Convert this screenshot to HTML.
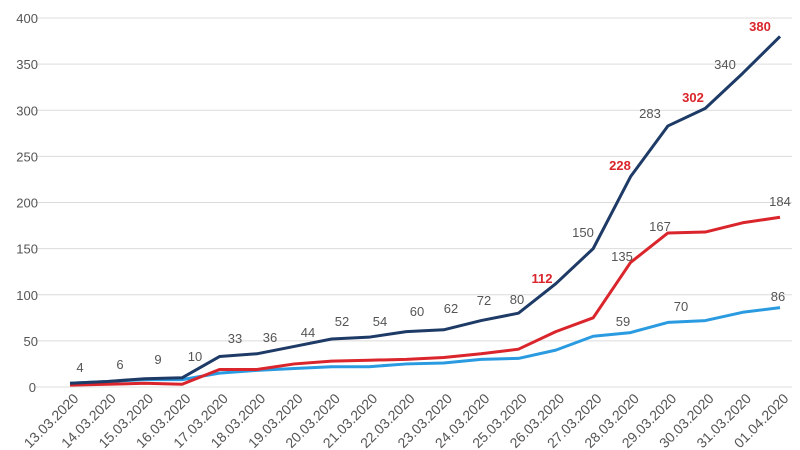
<!DOCTYPE html>
<html><head><meta charset="utf-8"><style>
html,body{margin:0;padding:0;background:#fff;width:800px;height:450px;overflow:hidden}
svg{display:block;font-family:"Liberation Sans",sans-serif}
</style></head><body>
<svg id="c" width="800" height="450" xmlns="http://www.w3.org/2000/svg"></svg>
<script>
const s=document.getElementById('c');
const X=i=>70+i*37.37, Y=v=>387-v*0.9225;
let h='';
for(let v=0;v<=400;v+=50){const y=Y(v);h+=`<line x1="35" x2="792" y1="${y}" y2="${y}" stroke="#dcdcdc" stroke-width="1"/>`;
h+=`<text x="${v==0?36:38}" y="${y+5}" text-anchor="end" font-size="13" fill="#555">${v}</text>`;}
const dates=[];for(let d=13;d<=31;d++)dates.push((d<10?'0':'')+d+'.03.2020');dates.push('01.04.2020');
dates.forEach((d,i)=>{const x=X(i)+2,y=392;h+=`<text x="${x}" y="${y}" transform="rotate(-45 ${x} ${y})" text-anchor="end" dominant-baseline="hanging" font-size="14" fill="#555">${d}</text>`;});
const dark=[4,6,9,10,33,36,44,52,54,60,62,72,80,112,150,228,283,302,340,380];
const red=[2,3,4,3,19,19,25,28,29,30,32,36,41,60,75,135,167,168,178,184];
const lb=[4,6,8,8,15,18,20,22,22,25,26,30,31,40,55,59,70,72,81,86];
const pl=(a,c)=>`<polyline fill="none" stroke="${c}" stroke-width="3" stroke-linejoin="round" points="${a.map((v,i)=>X(i)+','+Y(v)).join(' ')}"/>`;
h+=pl(lb,'#2a9be0')+pl(red,'#d9252b')+pl(dark,'#1e3a66');
const L=[['4',80,372],['6',120,369],['9',158,364],['10',195,361],['33',235,343],['36',270,342],['44',308,337],['52',342,326],['54',380,326],['60',417,316],['62',451,313],['72',484,305],['80',517,304],['150',583,237],['283',650,118],['340',725,69],['184',780,206],['135',622,261],['167',660,231],['59',623,326],['70',681,311],['86',778,301]];
L.forEach(([t,x,y])=>h+=`<text x="${x}" y="${y}" text-anchor="middle" font-size="13" fill="#555">${t}</text>`);
[['112',542,283],['228',620,170],['302',693,102],['380',760,31]].forEach(([t,x,y])=>h+=`<text x="${x}" y="${y}" text-anchor="middle" font-size="13" font-weight="bold" fill="#d9252b">${t}</text>`);
s.innerHTML=h;
</script>
</body></html>
